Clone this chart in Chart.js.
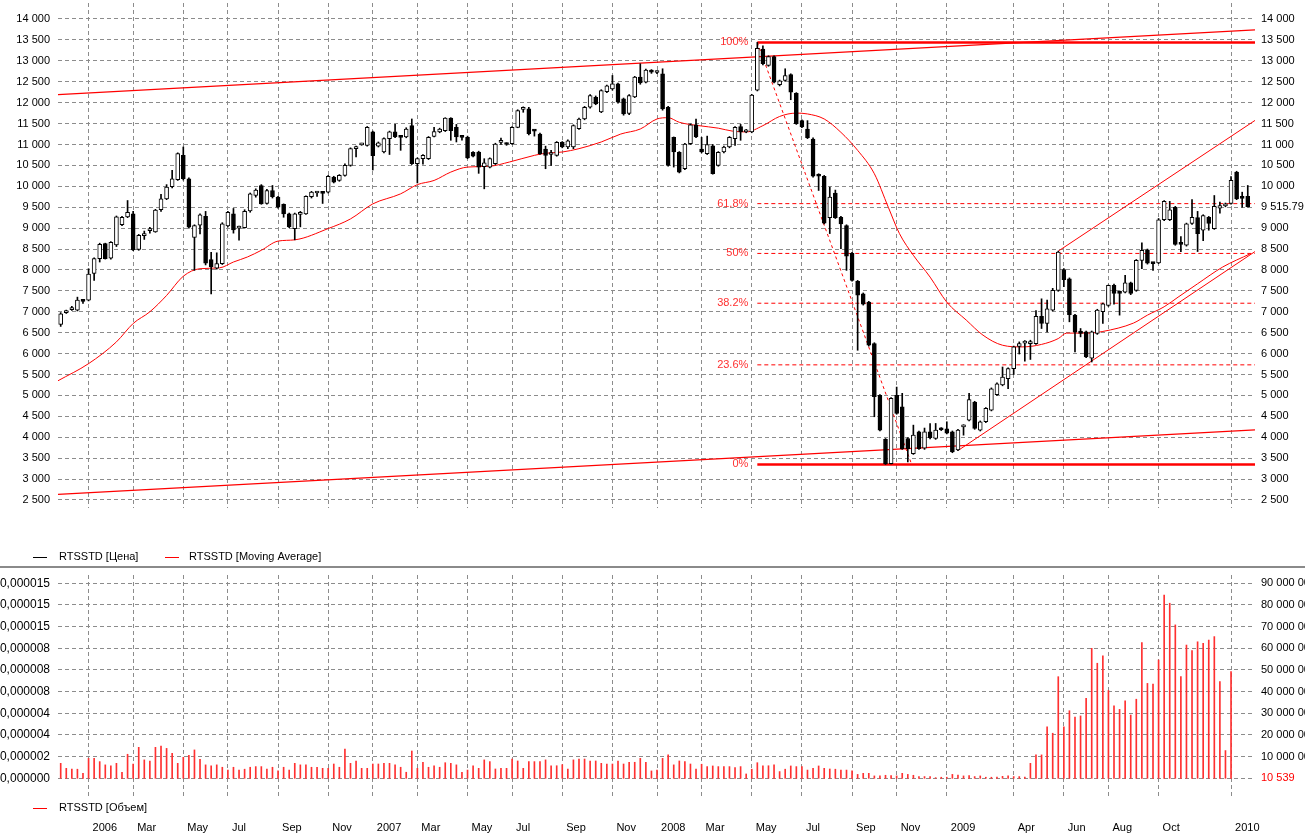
<!DOCTYPE html>
<html>
<head>
<meta charset="utf-8">
<title>RTSSTD weekly</title>
<script src="https://cdn.jsdelivr.net/npm/chart.js@4.4.1/dist/chart.umd.min.js"></script>
<style>
  html, body { margin: 0; padding: 0; background: #fff; }
  #wrap { position: relative; width: 1305px; height: 834px; overflow: hidden; }
  #price { position: absolute; left: 0; top: 0; }
  #volume { position: absolute; left: 0; top: 567px; }
  #sep { position: absolute; left: 0; top: 566px; width: 1305px; height: 2px; background: #8a8a8a; }
</style>
</head>
<body>
<div id="wrap">
  <canvas id="price" width="1305" height="567"></canvas>
  <canvas id="volume" width="1305" height="267"></canvas>
  <div id="sep"></div>
</div>
<script>
// weekly candles, Dec 2005 .. Jan 2010 (index = week number)
const opens = [
  6700, 6980, 7050, 7040, 7270, 7280, 7920, 8270, 8630, 8280,
  8600, 9080, 9270, 9340, 8490, 8820, 8940, 8910, 9440, 9700,
  9990, 10160, 10740, 10180, 8780, 9070, 9280, 8250, 8040, 8150,
  9050, 9340, 9000, 9010, 9410, 9780, 10020, 9590, 9900, 9740,
  9570, 9340, 8990, 9330, 9340, 9750, 9840, 9850, 9860, 10220,
  10140, 10260, 10500, 10900, 10990, 10980, 11300, 10960, 10820, 11140,
  11300, 11180, 11180, 11450, 10540, 10660, 10660, 11190, 11300, 11330,
  11630, 11410, 11180, 11170, 10810, 10820, 10470, 10460, 10540, 11050,
  11020, 11020, 11410, 11840, 11850, 11340, 11250, 10890, 10760, 10740,
  11050, 10940, 10940, 11380, 11610, 11890, 12130, 11780, 12260, 12330,
  12450, 12090, 11740, 12140, 12610, 12490, 12760, 12720, 12690, 11890,
  11170, 10810, 10420, 11020, 11470, 10890, 10780, 10970, 10500, 10820,
  10940, 11140, 11430, 11300, 11300, 12300, 13280, 12890, 13100, 12430,
  12530, 12670, 12220, 11570, 11370, 11130, 10280, 10240, 9250, 9840,
  9260, 9060, 8400, 7730, 7430, 7230, 6240, 5000, 3950, 3370,
  5000, 4730, 3970, 3610, 4130, 3740, 4130, 3970, 4210, 4200,
  4130, 3700, 4250, 4410, 4840, 4170, 4370, 4650, 5020, 5250,
  5400, 5640, 6170, 6250, 6240, 6240, 6890, 6720, 7040, 7510,
  8010, 7790, 6920, 6540, 6520, 5890, 6480, 7000, 7150, 7630,
  7470, 7470, 7690, 7510, 8230, 8480, 8170, 8170, 9200, 9200,
  9500, 8660, 8590, 9110, 9250, 8950, 9260, 8990, 9480, 9530,
  9590, 10340, 9740, 9760
];
const highs = [
  6980, 7040, 7130, 7350, 7290, 8030, 8290, 8640, 8640, 8680,
  9290, 9280, 9660, 9400, 8850, 8930, 9020, 9450, 9810, 10040,
  10380, 10800, 10940, 10200, 9080, 9340, 9400, 8420, 8410, 9130,
  9400, 9470, 9050, 9440, 9840, 9940, 10040, 9930, 10020, 9760,
  9580, 9360, 9360, 9400, 9770, 9880, 9880, 9870, 10260, 10240,
  10280, 10540, 10920, 10960, 11030, 11430, 11320, 11060, 11160, 11320,
  11480, 11200, 11400, 11610, 10680, 10760, 11190, 11410, 11390, 11640,
  11640, 11480, 11190, 11200, 10830, 10840, 10660, 10680, 11030, 11150,
  11040, 11430, 11830, 11900, 11890, 11350, 11270, 10960, 10860, 11070,
  11070, 11110, 11470, 11630, 11910, 12190, 12160, 12310, 12420, 12650,
  12470, 12110, 12190, 12630, 12930, 12800, 12790, 12760, 12810, 11910,
  11180, 10830, 11030, 11490, 11610, 11170, 11200, 11000, 10830, 10960,
  11190, 11430, 11480, 11360, 12200, 13440, 13360, 13120, 13120, 12540,
  12810, 12690, 12240, 11590, 11570, 11160, 10300, 10260, 9980, 9910,
  9280, 9080, 8420, 7750, 7450, 7250, 6260, 5020, 3970, 4950,
  5200, 5050, 3990, 4290, 4150, 4220, 4330, 4330, 4230, 4370,
  4150, 4190, 4300, 5050, 4860, 4390, 4710, 5180, 5300, 5680,
  5660, 6180, 6280, 6310, 6320, 7030, 7310, 7280, 7560, 8450,
  8030, 7810, 6940, 6600, 6540, 6540, 7060, 7210, 7640, 7660,
  7500, 7870, 7710, 8250, 8650, 8500, 8180, 9230, 9660, 9640,
  9520, 8800, 9120, 9680, 9400, 9320, 9280, 9780, 9620, 9600,
  10230, 10360, 9860, 10020
];
const lows = [
  6650, 6960, 7030, 7020, 7200, 7260, 7750, 8190, 8260, 8260,
  8560, 9060, 9250, 8460, 8470, 8730, 8880, 8900, 9400, 9680,
  9960, 10140, 10150, 9000, 7990, 8860, 8120, 7430, 8020, 8130,
  9030, 8880, 8710, 9000, 9380, 9740, 9570, 9570, 9720, 9480,
  9260, 9010, 8720, 9030, 9330, 9720, 9760, 9590, 9840, 10080,
  10120, 10240, 10480, 10700, 10980, 10960, 10390, 10940, 10800, 10760,
  11160, 10860, 11160, 10520, 10080, 10530, 10640, 11180, 11280, 11310,
  11100, 11060, 11100, 10660, 10700, 10310, 9940, 10440, 10520, 11000,
  10980, 11000, 11400, 11770, 11230, 11200, 10760, 10420, 10500, 10720,
  10920, 10900, 10900, 11360, 11590, 11870, 11950, 11760, 12240, 12300,
  11990, 11700, 11710, 12120, 12440, 12470, 12700, 12690, 11820, 10480,
  10460, 10320, 10400, 11000, 11160, 10800, 10760, 10290, 10480, 10800,
  10920, 10980, 11100, 11280, 11280, 12280, 12900, 12870, 12470, 12400,
  12510, 12070, 11480, 11400, 11140, 10220, 9900, 9100, 8870, 9230,
  8510, 7990, 7730, 6080, 7160, 6180, 4490, 4150, 3350, 3360,
  4550, 3710, 3410, 3590, 3710, 3710, 3960, 3950, 4160, 4080,
  3630, 3680, 4050, 4390, 4190, 4150, 4350, 4630, 5000, 5230,
  5160, 5500, 5990, 5820, 5860, 6220, 6600, 6520, 7020, 7490,
  7600, 6760, 6040, 6400, 5900, 5800, 6460, 6720, 7130, 7180,
  6920, 7450, 7410, 7490, 8030, 8140, 7990, 8150, 9180, 9180,
  8590, 8440, 8570, 9090, 8440, 8700, 8950, 8970, 9360, 9510,
  9570, 9680, 9500, 9500
];
const closes = [
  6950, 7020, 7100, 7280, 7250, 7900, 8270, 8610, 8270, 8660,
  9270, 9260, 9380, 8480, 8830, 8870, 8980, 9430, 9700, 9980,
  10180, 10780, 10180, 9020, 9060, 9320, 8160, 8070, 8150, 9100,
  9380, 8960, 9030, 9400, 9820, 9910, 9580, 9900, 9750, 9500,
  9340, 9030, 9340, 9370, 9760, 9860, 9850, 9830, 10240, 10100,
  10260, 10500, 10900, 10940, 11010, 11410, 10730, 11040, 11140, 11300,
  11180, 11170, 11370, 10540, 10660, 10740, 11170, 11310, 11370, 11630,
  11330, 11180, 11170, 10680, 10720, 10460, 10560, 10660, 11010, 11060,
  11000, 11410, 11810, 11860, 11260, 11320, 10780, 10740, 10790, 11050,
  10940, 11090, 11450, 11610, 11890, 12170, 11970, 12290, 12400, 12450,
  12010, 11730, 12170, 12610, 12470, 12780, 12730, 12740, 11850, 10500,
  10820, 10340, 11010, 11470, 11180, 10820, 11000, 10300, 10810, 10940,
  11170, 11410, 11300, 11320, 12180, 13300, 12930, 13100, 12490, 12520,
  12650, 12250, 11500, 11420, 11160, 10240, 10240, 9120, 9740, 9250,
  9100, 8330, 7750, 7400, 7180, 6200, 4970, 4170, 3360, 4930,
  4570, 3730, 3730, 4050, 3730, 4130, 3990, 4170, 4180, 4100,
  3650, 4170, 4270, 4900, 4210, 4370, 4690, 5160, 5280, 5440,
  5640, 6160, 6240, 6270, 6280, 6890, 6720, 7070, 7510, 8430,
  7770, 6930, 6520, 6480, 5920, 6520, 7040, 7190, 7630, 7440,
  7440, 7690, 7440, 8230, 8470, 8160, 8150, 9200, 9640, 9440,
  8610, 8610, 9100, 9260, 8870, 9300, 9110, 9520, 9540, 9580,
  10140, 9700, 9710, 9515.79
];

// volume in millions, weeks without a bar are null
const volumes = [
  6.9, 4.6, 4.2, 4.2, 2.3, 9.2, 9.2, 7.7, 6.2, 5.7,
  6.9, 2.8, 11.1, 6.6, 14.3, 8.5, 8.0, 14.3, 14.9, 13.8,
  11.5, 6.9, 9.7, 10.6, 13.1, 8.8, 6.2, 5.8, 6.2, 5.1,
  3.8, 5.1, 3.8, 4.2, 5.1, 5.4, 5.4, 4.2, 5.1, 3.5,
  5.1, 3.8, 6.9, 6.2, 6.2, 5.1, 5.1, 4.6, 4.6, 6.6,
  5.1, 13.5, 6.9, 8.0, 4.6, 4.6, 6.6, 6.6, 6.9, 6.9,
  6.2, 5.1, 2.8, 12.6, 4.6, 7.4, 5.1, 5.7, 5.1, 7.2,
  6.9, 6.2, 2.8, 3.8, 5.7, 4.6, 8.5, 7.7, 4.3, 4.6,
  4.6, 8.9, 8.0, 4.6, 7.7, 7.7, 7.7, 8.5, 5.8, 5.8,
  6.3, 4.2, 8.5, 8.9, 8.9, 8.0, 8.0, 6.9, 6.6, 6.6,
  8.0, 6.6, 7.4, 7.4, 9.2, 7.4, 3.4, 3.8, 9.2, 10.8,
  6.2, 8.0, 7.7, 6.6, 4.3, 6.5, 5.4, 5.7, 5.4, 5.4,
  5.4, 4.9, 5.4, 2.0, 4.2, 7.2, 5.7, 5.8, 6.2, 3.1,
  4.2, 5.7, 5.4, 5.4, 3.8, 4.6, 5.7, 4.6, 4.3, 4.2,
  3.8, 3.8, 3.4, 1.8, 2.3, 2.3, 1.1, 1.1, 1.4, 1.2,
  1.1, 2.3, 1.8, 1.4, 0.8, 0.8, 0.8, 0.3, 0.5, 0.5,
  1.8, 1.5, 1.1, 1.2, 0.8, 1.1, 0.5, 0.5, 0.6, 0.9,
  1.1, 0.8, 0.8, 0.6, 6.9, 10.8, 10.8, 23.8, 20.8, 46.9,
  23.8, 31.2, 28.2, 28.8, 36.9, 60.0, 53.1, 56.5, 40.5, 33.4,
  31.8, 35.8, 29.2, 36.5, 62.6, 43.8, 43.5, 54.6, 84.6, 80.8,
  70.8, 46.9, 61.5, 58.9, 63.0, 62.3, 63.8, 65.4, 44.6, 12.8,
  49.2, null, null, null
];

// moving average at these week positions
const maWeeks = [-0.5, 5, 10, 13, 16, 19, 22, 25, 28.5, 31, 33.5, 36, 39, 42, 48, 52, 56, 61, 64, 67,
  70, 73, 77, 80.5, 85, 87, 90, 93, 97, 100.5, 104, 107, 109, 111, 114.5, 118, 120.5, 123, 126, 129,
  132, 134, 137, 140, 143, 146, 148.5, 150.5, 153, 156, 159, 162.5, 165.5, 169, 172.5, 176, 179, 180.5, 184.5, 187,
  192.5, 195, 198, 200.5, 204, 208.5, 213.5];
const maValues = [5350, 5760, 6280, 6720, 7000, 7390, 7850, 8030, 8050, 8190, 8310, 8470, 8690, 8720, 8990, 9220, 9580, 9820, 10040, 10140,
  10340, 10460, 10480, 10580, 10740, 10790, 10820, 10900, 11060, 11250, 11370, 11610, 11640, 11530, 11450, 11390, 11320, 11300, 11450, 11670,
  11750, 11730, 11610, 11290, 10860, 10300, 9500, 8870, 8350, 7830, 7230, 6800, 6440, 6200, 6160, 6220, 6360, 6490, 6490, 6530,
  6730, 6920, 7120, 7350, 7670, 8070, 8390];

// drawn trend lines: [week, price] end points
const channelTop = [[-0.5, 12190], [214.3, 13740]];
const channelBottom = [[-0.5, 2636], [214.3, 4178]];
const riseTop = [[179, 8450], [214.3, 11575]];
const riseBottom = [[161.1, 3690], [214.3, 8440]];

// fibonacci retracement
const fibHigh = 13440;
const fibLow = 3350;
const fibStartWeek = 125;
const fibEndWeek = 152.7;
const fibRatios = [0, 0.236, 0.382, 0.5, 0.618, 1];
const fibLabels = ['0%', '23.6%', '38.2%', '50%', '61.8%', '100%'];

const monthWeeks = [5, 13, 22, 30, 39, 48, 56, 64, 73, 81, 90, 99, 107, 115, 124, 133, 142, 150, 159, 171, 180, 188, 197, 210];
const monthLabels = ['2006', 'Mar', 'May', 'Jul', 'Sep', 'Nov', '2007', 'Mar', 'May', 'Jul', 'Sep', 'Nov',
  '2008', 'Mar', 'May', 'Jul', 'Sep', 'Nov', '2009', 'Apr', 'Jun', 'Aug', 'Oct', '2010'];

const priceTicks = [2500, 3000, 3500, 4000, 4500, 5000, 5500, 6000, 6500, 7000, 7500, 8000,
  8500, 9000, 9500, 10000, 10500, 11000, 11500, 12000, 12500, 13000, 13500, 14000];
const volumeTicks = [0, 10, 20, 30, 40, 50, 60, 70, 80, 90];
const volumeLeftLabels = ['0,000000', '0,000002', '0,000004', '0,000004', '0,000008',
  '0,000008', '0,000008', '0,000015', '0,000015', '0,000015'];
const lastVolumeLabel = '10 539';

(function () {
  const FONT = '11px "Liberation Sans", Arial, sans-serif';
  const GRID = '#8c8c8c';
  const RED = '#ff0000';
  const xMin = -0.484, xMax = 214.3;

  Chart.defaults.font.family = '"Liberation Sans", Arial, sans-serif';
  Chart.defaults.font.size = 11;
  Chart.defaults.color = '#000';

  const fmt = v => String(v).replace(/\B(?=(\d{3})+(?!\d))/g, ' ');
  const pts = pairs => pairs.map(p => ({ x: p[0], y: p[1] }));

  function drawLegend(ctx, items, y) {
    ctx.save();
    ctx.font = FONT;
    ctx.textBaseline = 'middle';
    items.forEach(it => {
      ctx.strokeStyle = it.color;
      ctx.lineWidth = 1;
      ctx.beginPath();
      ctx.moveTo(it.x, y + 0.5);
      ctx.lineTo(it.x + 14, y + 0.5);
      ctx.stroke();
      ctx.fillStyle = '#000';
      ctx.fillText(it.text, it.textX, y);
    });
    ctx.restore();
  }

  function xAxis(height) {
    return {
      type: 'linear', min: xMin, max: xMax, offset: false,
      grid: { offset: false, color: GRID, drawTicks: false },
      border: { display: false, dash: [4, 3] },
      ticks: { display: false },
      afterBuildTicks: s => { s.ticks = monthWeeks.map(v => ({ value: v })); },
      afterFit: s => { s.height = height; s.paddingLeft = 0; s.paddingRight = 0; }
    };
  }

  function yAxis(pos, min, max, ticks, opts) {
    return Object.assign({
      position: pos, min, max,
      grid: { color: GRID, drawTicks: false, display: pos === 'left' },
      border: { display: false, dash: [4, 3] },
      afterBuildTicks: s => { s.ticks = ticks.map(v => ({ value: v })); },
      afterFit: s => { s.width = pos === 'left' ? 58 : 50; s.paddingTop = 0; s.paddingBottom = 0; }
    }, opts);
  }

  function lineDs(data, color, width, dash, order) {
    return {
      type: 'line', data, borderColor: color, borderWidth: width, borderDash: dash || [],
      pointRadius: 0, fill: false, tension: 0, order: order || 3
    };
  }

  // ---- price panel ----
  const weeks = closes.map((_, i) => i);
  const wickData = weeks.map(i => ({ x: i, y: [lows[i], highs[i]] }));
  const bodyData = weeks.map(i => ({ x: i, y: [opens[i], closes[i]] }));
  const bodyFill = weeks.map(i => closes[i] >= opens[i] ? '#ffffff' : '#000000');
  const lastClose = closes[closes.length - 1];

  const fibLevels = fibRatios.map(r => fibLow + (fibHigh - fibLow) * r);
  const fibSets = fibLevels.map((lvl, k) => {
    const solid = fibRatios[k] === 0 || fibRatios[k] === 1;
    return lineDs([{ x: fibStartWeek, y: lvl }, { x: xMax, y: lvl }], RED, solid ? 2.5 : 1, solid ? [] : [4, 3], 4);
  });

  const ma = maWeeks.map((w, i) => ({ x: w, y: maValues[i] }));
  const maSet = lineDs(ma, RED, 1, null, 3);
  maSet.cubicInterpolationMode = 'monotone';

  const priceOverlay = {
    id: 'priceOverlay',
    afterDraw(chart) {
      const ctx = chart.ctx;
      const xs = chart.scales.x, ys = chart.scales.y;
      ctx.save();
      ctx.font = FONT;
      ctx.fillStyle = '#ff3030';
      ctx.textAlign = 'right';
      ctx.textBaseline = 'middle';
      fibLevels.forEach((lvl, k) => {
        ctx.fillText(fibLabels[k], xs.getPixelForValue(fibStartWeek) - 9, ys.getPixelForValue(lvl));
      });
      ctx.restore();
      drawLegend(ctx, [
        { x: 33, textX: 59, color: '#000', text: 'RTSSTD [Цена]' },
        { x: 165, textX: 189, color: RED, text: 'RTSSTD [Moving Average]' }
      ], 557);
    }
  };

  new Chart(document.getElementById('price'), {
    type: 'bar',
    data: {
      datasets: [
        { data: wickData, backgroundColor: '#000', barThickness: 1, minBarLength: 1, grouped: false, order: 2 },
        { data: bodyData, backgroundColor: bodyFill, borderColor: '#000', borderWidth: 1, borderSkipped: false,
          barThickness: 4, minBarLength: 2, grouped: false, order: 1 },
        maSet,
        lineDs(pts(channelTop), RED, 1.3),
        lineDs(pts(channelBottom), RED, 1.3),
        lineDs(pts(riseTop), RED, 1),
        lineDs(pts(riseBottom), RED, 1),
        lineDs([{ x: fibStartWeek, y: fibHigh }, { x: fibEndWeek, y: fibLow }], RED, 1, [3, 3], 4),
        ...fibSets
      ]
    },
    options: {
      responsive: false,
      animation: false,
      events: [],
      layout: { padding: { top: 3, left: 0, right: 0, bottom: 0 } },
      plugins: { legend: { display: false }, tooltip: { enabled: false } },
      scales: {
        x: xAxis(59),
        y: yAxis('left', 2308.7, 14382.5, priceTicks, {
          ticks: { padding: 8, crossAlign: 'near', font: { size: 11 }, callback: v => fmt(v) }
        }),
        yR: yAxis('right', 2308.7, 14382.5, priceTicks, {
          ticks: { padding: 6, crossAlign: 'near', font: { size: 11 }, callback: v => v === 9500 ? fmt(lastClose) : fmt(v) }
        })
      }
    },
    plugins: [priceOverlay]
  });

  // ---- volume panel ----
  const volData = weeks.map(i => ({ x: i, y: volumes[i] }));

  const volumeOverlay = {
    id: 'volumeOverlay',
    afterDraw(chart) {
      const ctx = chart.ctx;
      const xs = chart.scales.x;
      drawLegend(ctx, [{ x: 33, textX: 59, color: RED, text: 'RTSSTD [Объем]' }], 241);
      ctx.save();
      ctx.font = FONT;
      ctx.fillStyle = '#000';
      ctx.textAlign = 'left';
      ctx.textBaseline = 'middle';
      monthWeeks.forEach((w, k) => ctx.fillText(monthLabels[k], xs.getPixelForValue(w) + 4, 261));
      ctx.restore();
    }
  };

  new Chart(document.getElementById('volume'), {
    type: 'bar',
    data: {
      datasets: [{ data: volData, yAxisID: 'v', backgroundColor: '#ff3030', barThickness: 1, grouped: false }]
    },
    options: {
      responsive: false,
      animation: false,
      events: [],
      layout: { padding: { top: 8, left: 0, right: 0, bottom: 0 } },
      plugins: { legend: { display: false }, tooltip: { enabled: false } },
      scales: {
        x: xAxis(36),
        yL: yAxis('left', -9.09, 93.83, volumeTicks, {
          ticks: { padding: 8, crossAlign: 'near', font: { size: 12 }, callback: (v, i) => volumeLeftLabels[i] }
        }),
        v: yAxis('right', -9.09, 93.83, volumeTicks, {
          ticks: {
            padding: 6, crossAlign: 'near',
            color: c => c.tick && c.tick.value === 0 ? '#ff0000' : '#000',
            callback: v => v === 0 ? lastVolumeLabel : fmt(v * 1000000)
          }
        })
      }
    },
    plugins: [volumeOverlay]
  });
})();
</script>
</body>
</html>
